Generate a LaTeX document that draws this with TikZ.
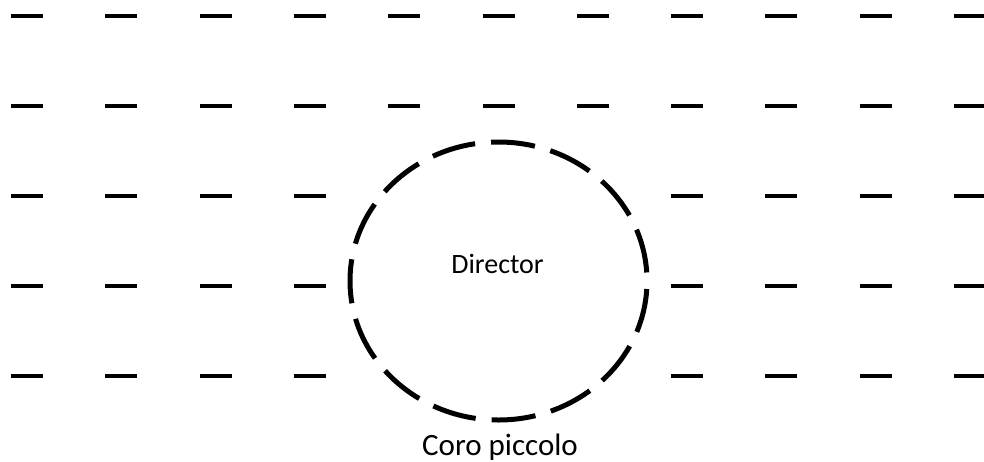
\documentclass[tikz,border=0pt]{standalone}
\usepackage{fontspec}
\setmainfont{Carlito}
\usetikzlibrary{positioning}
\begin{document}
\begin{tikzpicture}[x=1pt, y=-1pt,
    seat/.style={line width=4.5pt},
    ring/.style={line width=5pt, dash pattern=on 44.2pt off 16pt, dash phase=52.2pt},
    inner/.style={font=\fontsize{28}{32}\selectfont, inner sep=0pt, anchor=base},
    outer/.style={inner, font=\fontsize{31}{36}\selectfont}
  ]
  \useasboundingbox (0,0) rectangle (984,461);
  \foreach \r in {0,1}
    \foreach \c in {0,...,10}
      \draw[seat] ({27+94.3*\c-16},{16+90*\r}) -- ++(32,0);
  \foreach \r in {2,3,4}
    \foreach \c in {0,1,2,3,7,8,9,10}
      \draw[seat] ({27+94.3*\c-16},{16+90*\r}) -- ++(32,0);
  \draw[ring] (498.5,281) ellipse [x radius=148.5, y radius=139];
  \node[inner] (director) at (497.5,273) {Director};
  \node[outer] (coro) at (500,455) {Coro piccolo};
\end{tikzpicture}
\end{document}
